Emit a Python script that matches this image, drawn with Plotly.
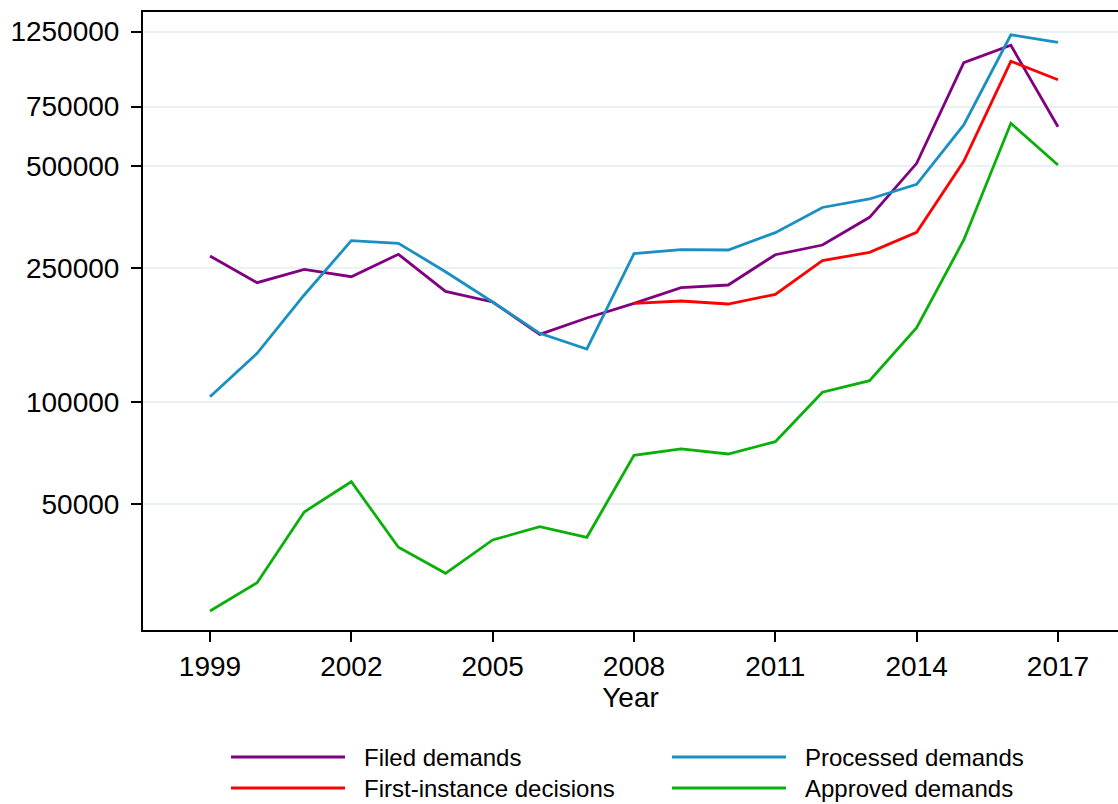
import plotly.graph_objects as go

years = list(range(1999, 2018))

filed = [271000, 225900, 247500, 235300, 274200, 213000, 198100, 158900, 177600, 196300,
         218400, 222400, 273400, 292100, 352700, 509700, 1011600, 1139000, 654200]
processed = [103900, 139600, 207800, 300800, 295500, 243500, 198100, 160000, 143800, 275300,
             282900, 282300, 317700, 377200, 399700, 441800, 661900, 1224000, 1162700]
first_instance = [None, None, None, None, None, None, None, None, None, 196300,
                  199400, 195400, 208700, 262500, 277900, 318500, 516700, 1021400, 901000]
approved = [24120, 29250, 47360, 58210, 37230, 31180, 39130, 42830, 39850, 69680,
            72750, 70310, 76450, 107100, 115900, 166300, 302200, 669500, 503800]

series_names = ["Filed demands", "Processed demands", "First-instance decisions", "Approved demands"]
series_values = [filed, processed, first_instance, approved]
series_colors = ["#800080", "#1a8fc1", "#ff0000", "#0aaf0a"]

y_tickvals = [50000, 100000, 250000, 500000, 750000, 1250000]
y_ticktext = ["50000", "100000", "250000", "500000", "750000", "1250000"]
x_tickvals = [1999, 2002, 2005, 2008, 2011, 2014, 2017]

FONT = "Liberation Sans, Arial, Helvetica, sans-serif"

fig = go.Figure()
for name, vals, col in zip(series_names, series_values, series_colors):
    fig.add_trace(go.Scatter(x=years, y=vals, mode="lines", name=name,
                             line=dict(color=col, width=2.8), showlegend=False))

# custom legend (two columns, long swatches) in paper coordinates
W0, W1 = 143, 1118
H0, H1 = 12, 630
def px_x(x):
    return (x - W0) / (W1 - W0)
def px_y(y):
    return (H1 - y) / (H1 - H0)

legend_pos = [(231, 345, 362, 757), (672, 786, 803, 757),
              (231, 345, 362, 788), (672, 786, 803, 788)]
for (sx0, sx1, tx, ty), name, col in zip(legend_pos, series_names, series_colors):
    fig.add_shape(type="line", xref="paper", yref="paper",
                  x0=px_x(sx0), x1=px_x(sx1), y0=px_y(ty), y1=px_y(ty),
                  line=dict(color=col, width=3))
    fig.add_annotation(xref="paper", yref="paper", x=px_x(tx), y=px_y(ty),
                       text=name, showarrow=False, xanchor="left", yanchor="middle",
                       font=dict(size=24, color="black", family=FONT))

fig.update_layout(
    width=1118, height=804,
    margin=dict(l=143, r=0, t=12, b=174),
    paper_bgcolor="white", plot_bgcolor="white",
    font=dict(family=FONT, color="black", size=28),
    showlegend=False,
)
fig.update_xaxes(
    range=[1997.578, 2018.274],
    tickvals=x_tickvals, ticktext=[str(v) for v in x_tickvals],
    showgrid=False, zeroline=False,
    showline=True, linecolor="black", linewidth=2, mirror=True,
    ticks="outside", ticklen=10, tickwidth=2, tickcolor="black",
    tickfont=dict(size=28, family=FONT, color="black"),
    title=dict(text="Year", font=dict(size=28, family=FONT, color="black"), standoff=5),
)
fig.update_yaxes(
    type="log", range=[4.3261, 6.1551],
    tickvals=y_tickvals, ticktext=y_ticktext,
    showgrid=True, gridcolor="#eaf1f3", gridwidth=2, zeroline=False,
    showline=True, linecolor="black", linewidth=2, mirror=False,
    ticks="outside", ticklen=10, tickwidth=2, tickcolor="black",
    tickfont=dict(size=28, family=FONT, color="black"),
    ticklabelstandoff=6,
)

fig.write_html("out.html",
               config={"displayModeBar": False, "displaylogo": False},
               post_script="document.body.style.margin='0px';document.body.style.overflow='hidden';")
